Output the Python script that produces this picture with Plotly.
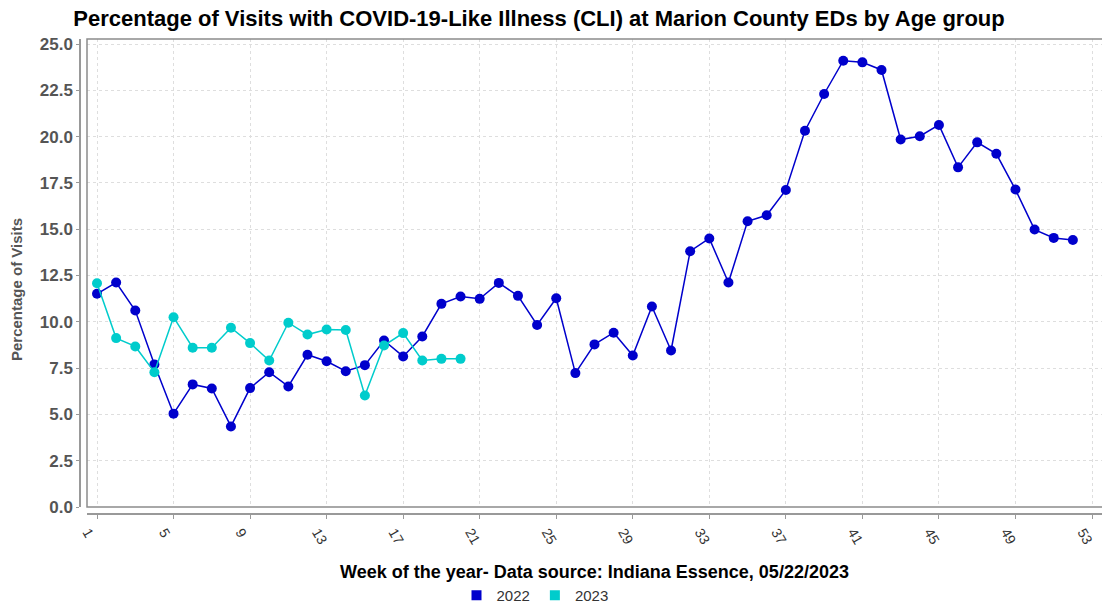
import plotly.graph_objects as go

weeks_2022 = list(range(1, 53))
cli_2022 = [11.51, 12.12, 10.61, 7.70, 5.04, 6.62, 6.40, 4.35, 6.42, 7.28,
            6.51, 8.22, 7.87, 7.33, 7.66, 8.99, 8.13, 9.21, 10.97, 11.37,
            11.24, 12.10, 11.40, 9.83, 11.27, 7.23, 8.78, 9.41, 8.18, 10.83,
            8.45, 13.81, 14.50, 12.12, 15.43, 15.75, 17.12, 20.32, 22.30, 24.10,
            24.01, 23.60, 19.84, 20.02, 20.63, 18.34, 19.69, 19.07, 17.14, 14.98,
            14.53, 14.42]
weeks_2023 = list(range(1, 21))
cli_2023 = [12.08, 9.12, 8.67, 7.28, 10.25, 8.60, 8.60, 9.68, 8.85, 7.91,
            9.95, 9.31, 9.58, 9.56, 6.02, 8.72, 9.39, 7.91, 8.00, 8.00]

x_ticks = list(range(1, 54, 4))
y_ticks = [0, 2.5, 5, 7.5, 10, 12.5, 15, 17.5, 20, 22.5, 25]
y_tick_text = [f"{v:.1f}" for v in y_ticks]

C2022 = "#0000CC"
C2023 = "#00CCCC"
FONT = "Liberation Sans, Arial, sans-serif"

fig = go.Figure()
fig.add_trace(go.Scatter(x=weeks_2022, y=cli_2022, mode="lines+markers", name="2022",
                         line=dict(color=C2022, width=1.5),
                         marker=dict(color=C2022, size=10), showlegend=False))
fig.add_trace(go.Scatter(x=weeks_2023, y=cli_2023, mode="lines+markers", name="2023",
                         line=dict(color=C2023, width=1.5),
                         marker=dict(color=C2023, size=10), showlegend=False))
# legend entries (square swatches)
for nm, c in [("2022", C2022), ("2023", C2023)]:
    fig.add_trace(go.Scatter(x=[None], y=[None], mode="markers", name=nm,
                             marker=dict(color=c, size=10, symbol="square")))

W, H = 1102, 607
ml, mr, mt, mb = 80, 0, 39, 93
pw = W - ml - mr
ph = H - mt - mb

fig.update_layout(
    width=W, height=H,
    margin=dict(l=ml, r=mr, t=mt, b=mb, autoexpand=False),
    paper_bgcolor="white", plot_bgcolor="white",
    font=dict(family=FONT, color="#333"),
    title=dict(text="Percentage of Visits with COVID-19-Like Illness (CLI) at Marion County EDs by Age group",
               x=539 / W, xanchor="center", y=1 - 18 / H, yanchor="middle",
               font=dict(family=FONT, size=22, color="#000", weight="bold")),
    xaxis=dict(domain=[(87 - ml) / pw, 1], anchor="free", position=0, automargin=False,
               range=[0.4774, 53.5226], tickvals=x_ticks, ticktext=[str(t) for t in x_ticks],
               tickangle=60, ticks="outside", ticklen=4, tickcolor="#999",
               ticklabelshift=-9,
               tickfont=dict(family=FONT, size=14, color="#333"),
               showline=True, linecolor="#999", linewidth=1.5,
               showgrid=True, gridcolor="#dedede", griddash="3px,3px", gridwidth=1,
               zeroline=False,
               title=dict(text="Week of the year- Data source: Indiana Essence, 05/22/2023",
                          font=dict(family=FONT, size=18, color="#000", weight="bold"),
                          standoff=18)),
    yaxis=dict(domain=[(514 - 507) / ph, 1], anchor="free", position=0, automargin=False,
               range=[0, 25.27], tickvals=y_ticks, ticktext=y_tick_text,
               ticks="outside", ticklen=3, tickcolor="#999",
               tickfont=dict(family=FONT, size=17, color="#555", weight="bold"),
               showline=True, linecolor="#999", linewidth=1.5,
               showgrid=True, gridcolor="#dedede", griddash="3px,3px", gridwidth=1,
               zeroline=False),
    legend=dict(orientation="h", x=(535 - ml) / pw, xanchor="center",
                y=-(579 - 514) / ph, yanchor="top",
                font=dict(family=FONT, size=15, color="#333"),
                itemwidth=30, tracegroupgap=0, bgcolor="rgba(0,0,0,0)"),
    shapes=[dict(type="rect", xref="x domain", yref="y domain", x0=0, x1=1.01, y0=0, y1=1,
                 line=dict(color="#8c8c8c", width=1.5), layer="above")],
    annotations=[dict(text="Percentage of Visits", textangle=-90, showarrow=False,
                      xref="paper", yref="paper", x=(16 - ml) / pw, y=(514 - 290) / ph,
                      xanchor="center", yanchor="middle",
                      font=dict(family=FONT, size=15, color="#555", weight="bold"))],
)

fig.write_html("out.html", config={"displayModeBar": False},
               post_script="document.body.style.margin='0';")
